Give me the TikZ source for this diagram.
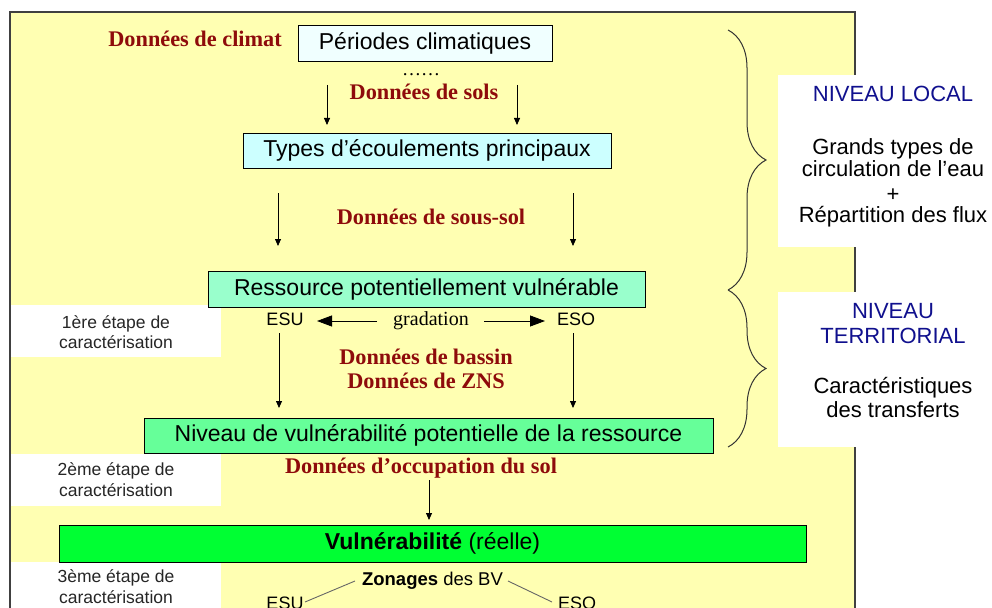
\documentclass[tikz,border=0pt]{standalone}
\usepackage{fontspec}
\setmainfont{Liberation Sans}
\newfontfamily\serifx{Liberation Serif}
\usetikzlibrary{arrows.meta,decorations.pathreplacing}
\definecolor{bgyellow}{HTML}{FFFFB2}
\definecolor{framegray}{HTML}{404040}
\definecolor{datared}{HTML}{8E0B0B}
\definecolor{navy}{HTML}{10108E}
\definecolor{cpale}{HTML}{F0FFFF}
\definecolor{clight}{HTML}{CCFFFF}
\definecolor{caqua}{HTML}{99FFCC}
\definecolor{cmint}{HTML}{66FF99}
\definecolor{cgreen}{HTML}{00FF33}
\tikzset{
  box/.style={draw=black, line width=0.9pt, inner sep=0pt, text=black,
    font=\fontsize{23}{27}\selectfont},
  redlab/.style={inner sep=0pt, anchor=base, text=datared,
    font=\serifx\bfseries\fontsize{22.3}{26}\selectfont},
  steplab/.style={inner sep=0pt, anchor=base, text=black!85,
    font=\fontsize{17.5}{21}\selectfont},
  sidelab/.style={inner sep=0pt, anchor=base, text=black,
    font=\fontsize{22}{26}\selectfont},
  bluelab/.style={sidelab, text=navy},
  smalllab/.style={inner sep=0pt, anchor=base, text=black,
    font=\fontsize{18}{22}\selectfont},
  varrow/.style={line width=0.8pt, -{Triangle[length=7pt,width=6pt]}},
  garrow/.style={line width=0.8pt, -{Triangle[length=15pt,width=11pt]}},
  thinline/.style={line width=0.9pt, draw=black!60},
  bracestyle/.style={line width=1pt, draw=black!80, decorate,
    decoration={brace, amplitude=38pt}},
}
\begin{document}
\begin{tikzpicture}[x=1pt,y=-1pt]
\useasboundingbox (0,0) rectangle (992,607);
\clip (0,0) rectangle (992,607);
% background panel
\draw[fill=bgyellow, draw=framegray, line width=1.2pt] (10,12) rectangle (855,650);
% white side panels
\fill[white] (11,305) rectangle (221,357);
\fill[white] (11,454) rectangle (221,506);
\fill[white] (11,562) rectangle (221,650);
\fill[white] (778,75) rectangle (995,247);
\fill[white] (778,292) rectangle (995,447);

% braces
\coordinate (b1t) at (728,30);
\coordinate (b1b) at (728,290);
\coordinate (b2t) at (728,290);
\coordinate (b2b) at (728,447);
\draw[bracestyle] (b1t) -- (b1b);
\draw[bracestyle] (b2t) -- (b2b);

% main boxes
\node[box, fill=cpale, minimum width=254pt, minimum height=36pt] (per) at (425,43) {Périodes climatiques};
\node[box, fill=clight, minimum width=368pt, minimum height=35pt] (typ) at (427,150.5) {Types d’écoulements principaux};
\node[box, fill=caqua, minimum width=437pt, minimum height=36pt] (res) at (426.5,289) {Ressource potentiellement vulnérable};
\node[box, fill=cmint, minimum width=569pt, minimum height=35pt] (niv) at (428.5,435.5) {Niveau de vulnérabilité potentielle de la ressource};
\node[box, fill=cgreen, minimum width=747pt, minimum height=37pt] (vul) at (432.5,543.5) {\textbf{Vulnérabilité} (réelle)};

% data labels
\node[redlab, anchor=base east] (dclim) at (282,47) {Données de climat};
\node[inner sep=0pt, anchor=base, font=\serifx\fontsize{19}{22}\selectfont] (dots) at (421,76) {……};
\node[redlab] (dsols) at (424,100) {Données de sols};
\node[redlab] (dsous) at (431,224) {Données de sous-sol};
\node[redlab] (dbas) at (426,364) {Données de bassin};
\node[redlab] (dzns) at (426,388) {Données de ZNS};
\node[redlab] (docc) at (421,473) {Données d’occupation du sol};

% ESU / gradation / ESO
\node[smalllab] (esu1) at (285,325) {ESU};
\node[smalllab] (eso1) at (576,325) {ESO};
\node[inner sep=0pt, anchor=base, font=\serifx\fontsize{20}{24}\selectfont] (grad) at (431,325) {gradation};

% step labels
\node[steplab] (e1a) at (116,328) {1ère étape de};
\node[steplab] (e1b) at (116,348) {caractérisation};
\node[steplab] (e2a) at (116,475) {2ème étape de};
\node[steplab] (e2b) at (116,496) {caractérisation};
\node[steplab] (e3a) at (116,582) {3ème étape de};
\node[steplab] (e3b) at (116,603) {caractérisation};

% right panel texts
\node[bluelab] (nl) at (893,102) {NIVEAU LOCAL};
\node[sidelab] (r1) at (893,154) {Grands types de};
\node[sidelab] (r2) at (893,176) {circulation de l’eau};
\node[inner sep=0pt, font=\fontsize{22}{26}\selectfont] (r3) at (893,195) {+};
\node[sidelab] (r4) at (893,222) {Répartition des flux};
\node[bluelab] (nt1) at (893,318) {NIVEAU};
\node[bluelab] (nt2) at (893,343) {TERRITORIAL};
\node[sidelab] (r5) at (893,393) {Caractéristiques};
\node[sidelab] (r6) at (893,417) {des transferts};

% bottom zonages
\node[smalllab, font=\fontsize{18.5}{22}\selectfont] (zon) at (432.5,585) {\textbf{Zonages} des BV};
\node[smalllab] (esu2) at (285,609) {ESU};
\node[smalllab] (eso2) at (577,609) {ESO};

% vertical arrows
\coordinate (a1s) at (327,85);  \coordinate (a1e) at (327,125);
\coordinate (a2s) at (517,85);  \coordinate (a2e) at (517,125);
\coordinate (a3s) at (278,193); \coordinate (a3e) at (278,246);
\coordinate (a4s) at (573,193); \coordinate (a4e) at (573,246);
\coordinate (a5s) at (279,333); \coordinate (a5e) at (279,408);
\coordinate (a6s) at (573,333); \coordinate (a6e) at (573,408);
\coordinate (a7s) at (429,480); \coordinate (a7e) at (429,520);
\draw[varrow] (a1s) -- (a1e);
\draw[varrow] (a2s) -- (a2e);
\draw[varrow] (a3s) -- (a3e);
\draw[varrow] (a4s) -- (a4e);
\draw[varrow] (a5s) -- (a5e);
\draw[varrow] (a6s) -- (a6e);
\draw[varrow] (a7s) -- (a7e);

% gradation arrows
\coordinate (gls) at (377,321); \coordinate (gle) at (317,321);
\coordinate (grs) at (484,321); \coordinate (gre) at (545,321);
\draw[garrow] (gls) -- (gle);
\draw[garrow] (grs) -- (gre);

% zonages lines
\coordinate (zl1) at (305,602); \coordinate (zl2) at (355,581);
\coordinate (zr1) at (508,581); \coordinate (zr2) at (552,602);
\draw[thinline] (zl1) -- (zl2);
\draw[thinline] (zr1) -- (zr2);
\end{tikzpicture}
\end{document}
